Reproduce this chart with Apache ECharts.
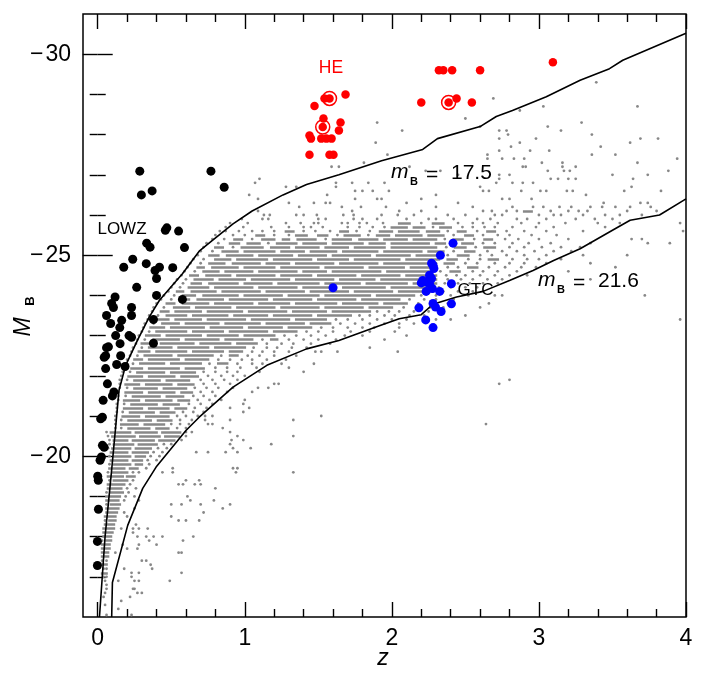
<!DOCTYPE html>
<html><head><meta charset="utf-8">
<script src="https://cdn.jsdelivr.net/npm/echarts@6/dist/echarts.min.js"></script>
<style>html,body{margin:0;padding:0;background:#fff}#c{width:706px;height:678px}</style>
</head><body><div id="c"></div>
<script>
// ---- data ----
const xMajor = [0, 1, 2, 3, 4];
const xMinor = [0.2,0.4,0.6,0.8,1.2,1.4,1.6,1.8,2.2,2.4,2.6,2.8,3.2,3.4,3.6,3.8];
const yMajor = [-30, -25, -20];
const yMinor = [-29,-28,-27,-26,-24,-23,-22,-21,-19,-18,-17];

const upperCurve = [[0.012,-16],[0.05,-18.0],[0.088,-19.4],[0.122,-20.72],[0.145,-21.64],[0.19,-22.26],[0.27,-22.88],[0.35,-23.46],[0.42,-23.88],[0.576,-24.54],[0.69,-25.1],[0.78,-25.37],[0.92,-25.78],[1.05,-26.1],[1.26,-26.5],[1.42,-26.76],[1.64,-27.0],[1.93,-27.35],[2.21,-27.63],[2.31,-27.9],[2.6,-28.2],[2.71,-28.45],[2.82,-28.6],[3.05,-28.94],[3.28,-29.35],[3.48,-29.64],[3.57,-29.85],[4.0,-30.52]];
const lowerCurve = [[0.095,-16],[0.1,-16.86],[0.204,-18.28],[0.306,-19.2],[0.397,-19.73],[0.6,-20.64],[0.69,-20.97],[0.92,-21.72],[1.15,-22.26],[1.42,-22.67],[1.64,-22.88],[1.92,-23.25],[2.05,-23.42],[2.2,-23.52],[2.28,-23.78],[2.44,-23.96],[2.62,-24.1],[2.8,-24.37],[2.96,-24.62],[3.1,-24.87],[3.28,-25.16],[3.5,-25.62],[3.62,-25.87],[3.82,-26.0],[4.0,-26.4]];

const lowzZ = [0.286,0.77,0.297,0.37,0.86,0.46,0.47,0.55,0.333,0.356,0.59,0.238,0.177,0.33,0.39,0.42,0.4,0.51,0.265,0.4,0.576,0.118,0.095,0.107,0.23,0.23,0.06,0.088,0.163,0.15,0.379,0.122,0.213,0.23,0.06,0.073,0.152,0.379,0.044,0.054,0.156,0.129,0.054,0.186,0.066,0.11,0.1,0.037,0.02,0.032,0.032,0.044,0.016,0.025,0.0,0.004,0.005,-0.002,-0.002];
const lowzM = [-27.09,-27.09,-26.5,-26.6,-26.69,-25.62,-25.68,-25.6,-25.3,-25.2,-25.19,-24.9,-24.7,-24.79,-24.62,-24.7,-24.42,-24.69,-24.2,-24.0,-23.9,-23.96,-23.8,-23.7,-23.7,-23.5,-23.5,-23.3,-23.38,-23.2,-23.4,-23.0,-23.0,-22.96,-22.7,-22.72,-22.8,-22.81,-22.46,-22.5,-22.5,-22.28,-22.18,-22.23,-21.8,-21.6,-21.5,-21.39,-20.93,-20.97,-20.27,-20.22,-19.9,-19.98,-19.5,-19.4,-18.68,-17.88,-17.28];

const heZ = [1.474,1.542,1.576,1.685,1.535,1.53,1.651,1.64,1.44,1.45,1.52,1.555,1.59,1.44,1.576,1.603,2.32,2.35,2.41,2.6,3.095,2.2,2.386,2.44,2.544];
const heM = [-28.71,-28.9,-28.9,-29.0,-28.4,-28.19,-28.3,-28.1,-27.98,-27.9,-27.9,-27.9,-27.9,-27.5,-27.5,-27.5,-29.6,-29.6,-29.6,-29.6,-29.8,-28.8,-28.8,-28.9,-28.8];
const heCircledZ = [1.576,1.53,2.386];
const heCircledM = [-28.9,-28.19,-28.8];

const gtcZ = [2.416,2.33,2.27,2.28,2.286,2.256,2.27,2.21,2.2,2.235,2.256,2.405,2.233,2.276,2.325,2.28,2.297,2.335,2.405,2.184,2.23,2.28,1.6];
const gtcM = [-25.3,-25.0,-24.8,-24.75,-24.67,-24.5,-24.42,-24.37,-24.31,-24.33,-24.29,-24.29,-24.1,-24.17,-24.1,-23.8,-23.71,-23.6,-23.79,-23.69,-23.39,-23.2,-24.19];

// survey quasars: each row = [M_B, entries...]; a number is a single object at that z,
// a pair [z1,z2] is a run of adjacent objects spanning z1..z2
const grayRows = [
[-29.3,3.39],[-28.9,2.69],[-28.7,3.03,3.67],[-28.6,2.87],[-28.4,2.5],[-28.3,1.9,3.29],[-28.2,2.6,3.06],
[-28.1,2.07,2.73,2.78,3.15],[-28.0,2.79,3.36],[-27.9,2.73,2.98,3.69,3.81],[-27.8,1.89,2.87,3.62],[-27.7,2.81,3.42],
[-27.6,2.73,2.94,3.07],[-27.5,1.97,2.65,3.36,3.52],[-27.4,2.65,2.75,2.83,2.9,3.94],[-27.3,1.81,3.02,3.16,3.67],
[-27.2,1.59,1.64,2.12,2.89,2.91,3.16,3.25],[-27.1,2.23,2.33,3.06,3.17,3.21,3.88],[-27.0,2.45,2.73,2.8,3.5,3.74],
[-26.9,1.1,2.73,3.08,3.13,3.2,3.25,3.64],[-26.8,1.07,1.62,1.73,1.84,1.95,2.71,2.82,2.89,2.96],
[-26.7,1.28,1.35,1.62,2.6,3.63],[-26.6,1.75,1.8,1.87,1.98,2.62,2.66,2.88,3.01,3.05,3.19,3.23,3.58,3.83],
[-26.5,1.03,1.56,2.3,3.32],[-26.4,1.09,1.75,1.9,1.93,2.2,2.75,2.8,2.95],
[-26.3,1.3,1.47,1.55,1.58,2.1,2.45,3.44,3.69,3.74],
[-26.2,1.37,1.66,1.79,1.96,2.3,2.55,2.82,2.96,3.03,3.14,3.22,3.35,3.43,3.52,3.62,3.76],
[-26.1,1.09,1.73,2.05,2.2,2.62,2.68,2.78,2.85,[2.9,2.95],3.08,3.2,3.27,3.33,3.6,3.8],
[-26.0,1.13,1.17,1.35,1.4,1.49,1.67,1.74,1.93,2.04,2.15,2.38,2.5,2.7,2.75,3.0,3.1,3.15,3.3,3.45,3.55,3.7],
[-25.9,0.98,1.12,1.16,1.5,1.55,1.74,1.8,1.9,2.1,2.25,2.3,2.42,2.58,2.67,2.85,2.92,3.05,3.25,3.38,3.5],
[-25.8,0.9,1.02,1.28,1.38,1.47,1.5,1.66,1.7,1.78,1.83,1.94,[2.05,2.12],2.2,[2.28,2.35],2.45,2.55,2.62,2.72,2.88,3.0,3.18,3.4,3.55,3.96],
[-25.7,0.87,0.99,1.18,1.3,1.4,1.45,1.53,1.7,1.78,1.87,1.95,[2.0,2.1],[2.15,2.22],2.28,[2.33,2.4],2.48,2.55,2.63,2.7,2.82,2.98,3.1,3.45],
[-25.6,0.83,0.87,0.96,1.05,1.12,1.2,[1.28,1.33],1.4,1.48,1.58,[1.65,1.7],1.76,1.85,[1.92,2.0],[2.05,2.18],[2.24,2.32],2.38,[2.45,2.5],2.58,[2.65,2.7],2.78,2.9,3.05,3.3,3.98],
[-25.5,0.8,0.92,1.0,[1.08,1.13],1.2,1.3,[1.35,1.42],[1.5,1.56],1.63,[1.68,1.78],1.84,[1.9,1.98],[2.03,2.2],[2.25,2.35],2.42,[2.5,2.55],2.62,2.72,2.8,2.95,3.12],
[-25.4,0.78,0.86,[0.93,0.98],1.05,[1.12,1.2],[1.26,1.3],[1.36,1.48],1.55,[1.6,1.72],[1.78,1.9],[1.95,2.1],[2.15,2.3],2.36,[2.42,2.48],2.56,[2.63,2.68],2.77,2.86,3.0,3.2,3.63,3.7],
[-25.3,0.74,0.82,[0.9,0.96],[1.02,1.1],1.16,[1.22,1.35],[1.4,1.55],[1.6,1.8],[1.85,1.95],[2.0,2.25],[2.3,2.36],2.42,[2.48,2.55],2.62,2.7,2.82,2.93,3.08,3.35,3.74,3.89],
[-25.2,0.72,[0.8,0.85],0.92,[0.98,1.12],[1.18,1.3],[1.35,1.5],[1.55,1.7],[1.75,1.95],[2.0,2.3],2.37,[2.43,2.5],2.57,[2.63,2.7],2.8,2.9,3.02,3.15,3.28],
[-25.1,0.7,0.78,[0.85,0.95],[1.0,1.2],[1.25,1.4],[1.45,1.62],[1.67,1.9],[1.95,2.2],[2.25,2.35],2.42,[2.5,2.56],2.65,2.75,2.85,2.97,3.1,3.22],
[-25.0,0.68,[0.76,0.82],[0.88,1.05],[1.1,1.32],[1.37,1.55],[1.6,1.85],[1.9,2.12],[2.17,2.3],2.38,[2.45,2.52],2.6,2.68,2.78,2.9,3.05,3.3,3.6],
[-24.9,0.65,0.72,[0.8,0.9],[0.95,1.15],[1.2,1.45],[1.5,1.7],[1.75,2.05],[2.1,2.32],[2.38,2.44],2.52,2.6,[2.66,2.72],2.82,2.92,3.0,3.15],
[-24.8,0.63,0.7,[0.76,0.86],[0.92,1.1],[1.15,1.3],[1.35,1.6],[1.65,1.9],[1.95,2.25],2.3,[2.36,2.42],2.5,2.58,2.7,2.8,2.9,3.05,3.35],
[-24.7,0.61,[0.68,0.72],[0.78,0.95],[1.0,1.2],[1.25,1.5],[1.55,1.8],[1.85,2.08],[2.13,2.3],2.38,2.45,[2.52,2.58],2.66,2.77,2.88,2.98,3.52],
[-24.6,0.59,0.66,[0.72,0.82],[0.87,1.05],[1.1,1.35],[1.4,1.55],[1.6,1.92],[1.97,2.25],2.33,[2.4,2.46],2.55,2.62,2.72,2.85,3.2],
[-24.5,0.57,[0.63,0.68],[0.74,0.9],[0.95,1.2],[1.25,1.45],[1.5,1.75],[1.8,2.05],[2.1,2.3],2.37,2.44,2.5,2.6,2.7,2.8,2.92],
[-24.4,0.54,0.6,[0.66,0.78],[0.83,1.0],[1.05,1.3],[1.35,1.6],[1.65,1.88],[1.93,2.2],[2.25,2.3],2.38,2.47,2.55,2.65,2.75,3.35],
[-24.3,0.52,0.58,[0.64,0.7],[0.76,0.95],[1.0,1.18],[1.23,1.5],[1.55,1.78],[1.83,2.1],[2.15,2.3],2.36,2.45,2.53,2.62,2.72],
[-24.2,0.5,0.56,[0.62,0.75],[0.8,1.05],[1.1,1.35],[1.4,1.62],[1.67,1.95],[2.0,2.25],2.32,2.4,2.5,2.58],
[-24.1,0.48,[0.54,0.58],[0.64,0.8],[0.85,1.1],[1.15,1.4],[1.45,1.7],[1.75,2.0],[2.05,2.28],2.35,2.45,2.55],
[-24.0,0.45,0.52,[0.58,0.66],[0.72,0.95],[1.0,1.25],[1.3,1.5],[1.55,1.85],[1.9,2.15],2.2,2.3,2.4,2.52,2.7,2.75,3.72],
[-23.9,0.43,0.5,[0.56,0.62],[0.68,0.85],[0.9,1.15],[1.2,1.45],[1.5,1.75],[1.8,2.05],2.12,2.22,2.3,2.42],
[-23.8,0.4,[0.47,0.52],[0.58,0.75],[0.8,1.05],[1.1,1.3],[1.35,1.62],[1.67,1.9],[1.95,2.1],2.18,2.27,2.38,2.66],
[-23.7,0.38,0.45,[0.52,0.62],[0.67,0.9],[0.95,1.2],[1.25,1.5],[1.55,1.8],[1.85,2.0],2.08,2.18,2.26,2.35,2.6],
[-23.6,0.37,[0.43,0.48],[0.53,0.7],[0.75,0.98],[1.03,1.28],[1.33,1.55],[1.6,1.85],1.9,1.98,2.05,2.15,2.25],
[-23.5,0.35,0.41,[0.47,0.6],[0.65,0.88],[0.93,1.15],[1.2,1.45],[1.5,1.72],1.78,1.85,1.95,2.02,2.12,2.22,2.5],
[-23.4,0.34,[0.4,0.48],[0.53,0.7],[0.75,1.0],[1.05,1.3],[1.35,1.55],1.62,1.7,1.8,1.9,2.0,2.1,2.3,2.4,3.96],
[-23.3,0.32,0.38,[0.44,0.55],[0.6,0.82],[0.87,1.1],[1.15,1.4],[1.45,1.58],1.65,1.75,1.85,1.95,2.05,2.15],
[-23.2,0.31,[0.36,0.45],[0.5,0.72],[0.77,0.98],[1.03,1.25],[1.3,1.45],1.52,1.6,1.7,1.8,1.88,2.05],
[-23.1,0.3,0.35,[0.4,0.6],[0.65,0.85],[0.9,1.15],[1.2,1.35],1.42,1.5,1.6,1.72,1.85,2.02],
[-23.0,0.28,[0.33,0.42],[0.47,0.7],[0.75,0.95],[1.0,1.2],1.27,1.35,1.45,1.55,1.68,1.8,2.1],
[-22.9,0.27,0.32,[0.38,0.55],[0.6,0.82],[0.87,1.05],1.12,[1.18,1.22],1.3,1.4,1.5,1.62,1.95],
[-22.8,0.26,[0.3,0.38],[0.43,0.65],[0.7,0.9],[0.95,1.08],1.15,1.25,1.33,1.45,1.58],
[-22.7,0.24,0.3,[0.35,0.5],[0.55,0.75],[0.8,1.0],1.06,1.15,1.22,1.32,1.42,1.85],
[-22.6,0.23,[0.28,0.35],[0.4,0.6],[0.65,0.85],[0.9,0.98],1.05,1.12,1.2,1.3,1.48,1.52,1.63,2.04],
[-22.5,0.22,0.27,[0.32,0.5],[0.55,0.78],0.84,[0.9,0.95],1.02,1.1,1.2,1.35],
[-22.4,0.2,[0.25,0.3],[0.35,0.55],[0.6,0.75],0.82,0.9,0.98,1.05,1.15,1.28],
[-22.3,0.19,0.24,[0.29,0.45],[0.5,0.7],0.76,[0.82,0.88],0.95,1.05,1.12,1.25,1.47],
[-22.2,0.18,[0.23,0.3],[0.35,0.55],[0.6,0.72],0.8,0.88,0.97,1.08,1.3],
[-22.1,0.17,0.22,[0.27,0.45],[0.5,0.66],0.72,0.8,0.88,0.95,1.1,1.4],
[-22.0,0.16,[0.21,0.3],[0.35,0.52],[0.57,0.68],0.75,0.84,0.92,1.0],
[-21.9,0.15,0.2,[0.25,0.42],[0.47,0.62],0.7,0.78,0.86,0.95,2.8],
[-21.8,0.15,[0.19,0.28],[0.33,0.5],[0.55,0.65],0.72,0.8,0.9,1.2,1.23,2.73],
[-21.7,0.15,0.2,[0.25,0.4],[0.45,0.6],0.66,0.74,0.82,0.92,1.09,1.16],
[-21.6,0.14,[0.19,0.3],[0.35,0.52],[0.57,0.64],0.7,0.78,0.88,1.05],
[-21.5,0.14,0.19,[0.24,0.42],[0.47,0.58],0.65,0.72,0.8],
[-21.4,0.14,[0.18,0.28],[0.33,0.5],[0.55,0.62],0.68,0.76,0.84,1.0],
[-21.3,0.13,0.18,[0.23,0.4],[0.45,0.55],0.62,0.7,0.78,0.99],
[-21.2,0.13,[0.18,0.3],[0.35,0.48],[0.53,0.6],0.66,0.74,0.9,1.03],
[-21.1,0.13,0.17,[0.22,0.38],[0.43,0.52],0.58,0.65,0.72,0.99],
[-21.0,0.12,[0.17,0.28],[0.33,0.48],0.54,0.6,0.68,0.73,0.78,1.52],
[-20.9,0.12,0.16,[0.21,0.36],[0.41,0.5],0.56,0.64,0.73,0.9,1.33],
[-20.8,0.12,[0.16,0.27],[0.32,0.45],0.5,0.56,0.62,0.75,0.78,2.64],
[-20.7,0.12,0.16,[0.21,0.35],[0.4,0.48],0.54,0.6,0.85],
[-20.6,0.06,[0.09,0.22],[0.26,0.4],[0.44,0.56],0.6,0.64,0.9],
[-20.5,0.07,[0.1,0.25],[0.29,0.42],[0.46,0.55],0.6,0.95,1.33],
[-20.4,0.08,[0.11,0.2],[0.24,0.38],[0.42,0.52],0.57,0.91,0.99],
[-20.3,0.08,[0.11,0.24],[0.28,0.4],0.45,0.5,0.9,1.18],
[-20.2,0.07,[0.1,0.22],[0.26,0.36],0.41,0.47,0.92,1.04],
[-20.1,[0.09,0.2],[0.24,0.34],0.38,0.44,0.67,0.75,0.87,0.95],
[-20.0,0.08,[0.11,0.22],[0.26,0.32],0.36,0.42],
[-19.9,[0.09,0.2],[0.24,0.3],0.34,0.4],
[-19.8,0.08,[0.11,0.22],[0.26,0.3],0.35],
[-19.7,[0.08,0.18],[0.22,0.27],0.33,0.51,0.92,0.95],
[-19.6,0.07,[0.1,0.2],0.24,0.28,0.44,0.51,0.94,1.33],
[-19.5,[0.07,0.17],[0.2,0.25]],
[-19.4,0.08,[0.11,0.2],0.24,0.6,0.69],
[-19.3,[0.07,0.18],0.22,0.55,0.58,0.66,0.7],
[-19.2,[0.07,0.16],0.2,0.26,0.8],
[-19.1,0.06,[0.09,0.17],0.21],
[-19.0,[0.06,0.15],0.19,0.25,0.61],
[-18.9,[0.06,0.14],0.18,0.28,0.63,0.79],
[-18.8,0.06,[0.09,0.15],0.5,0.57,0.7,0.9],
[-18.7,[0.06,0.14],0.25,0.85],
[-18.6,[0.06,0.13],0.18,0.72],
[-18.5,[0.05,0.12],0.2,0.5],
[-18.4,0.05,[0.08,0.12],0.55,0.6,0.69],
[-18.3,[0.05,0.11],0.26],
[-18.2,[0.04,0.11],0.16,0.24,0.28,0.34],
[-18.1,[0.04,0.1],0.24],
[-18.0,[0.04,0.09],0.27,0.33,0.38,0.44,0.65],
[-17.9,0.03,[0.06,0.09],0.35,0.58],
[-17.8,[0.03,0.08],0.17,0.28,0.4],
[-17.7,[0.03,0.08],0.2,0.27],
[-17.6,[0.03,0.07],0.12,0.55,0.57],
[-17.5,[0.03,0.07]],
[-17.4,0.03,0.06,0.3,0.33],
[-17.3,[0.03,0.06],0.36],
[-17.2,0.04,0.06,0.18,0.37],
[-17.1,[0.03,0.06],0.23,0.28,0.57],
[-17.0,0.04,0.06,0.23],
[-16.9,0.05,0.14,0.25,0.28,0.49],
[-16.8,0.06],
[-16.7,0.06,0.24,0.25],
[-16.6,0.05,0.27,0.3],
[-16.5,0.04,0.22],
[-16.4,0.16],
[-16.3,0.05],
[-16.2,0.14],
[-16.05,0.06,0.23]
];

// ---- build marks ----
const dashData = [], dotData = [];
grayRows.forEach(r => {
  const M = r[0];
  for (let k = 1; k < r.length; k++) {
    const e = r[k];
    if (Array.isArray(e)) dashData.push({coords: [[e[0], M], [e[1], M]]});
    else dotData.push([e, M]);
  }
});
const pairs = (a, b) => a.map((v, i) => [v, b[i]]);

const FONT = 'Liberation Sans';
const chart = echarts.init(document.getElementById('c'), null, {renderer: 'canvas'});
const minus = v => v < 0 ? '\u2212\u200a' + Math.abs(v) : String(v);

function xAx(pos, vals, len, labels) {
  return {type: 'value', min: -0.1, max: 4, position: pos, gridIndex: 0,
    axisLine: {show: false}, splitLine: {show: false},
    axisTick: {show: true, inside: true, length: len, customValues: vals, lineStyle: {color: '#000', width: 1.4}},
    axisLabel: labels ? {show: true, customValues: vals, fontSize: 23, fontFamily: FONT, color: '#000', margin: 10} : {show: false}};
}
function yAx(pos, vals, len, labels) {
  return {type: 'value', min: -31, max: -16, inverse: true, position: pos, gridIndex: 0,
    axisLine: {show: false}, splitLine: {show: false},
    axisTick: {show: true, inside: true, length: len, customValues: vals, lineStyle: {color: '#000', width: 1.4}},
    axisLabel: labels ? {show: true, customValues: vals, fontSize: 23, fontFamily: FONT, color: '#000', margin: 12, formatter: minus} : {show: false}};
}

const txt = (x, y, text, o) => Object.assign({type: 'text', x: x, y: y, silent: true, z: 100,
  style: Object.assign({text: text, fill: '#000', fontFamily: FONT, fontSize: 17,
    align: 'center', verticalAlign: 'middle', textAlign: 'center', textVerticalAlign: 'middle'}, o || {})});

chart.setOption({
  animation: false,
  backgroundColor: '#fff',
  grid: {left: 83, top: 14, width: 603, height: 603, show: true, borderColor: '#000', borderWidth: 1.5, backgroundColor: 'transparent'},
  xAxis: [xAx('bottom', xMajor, 15, true), xAx('bottom', xMinor, 8, false), xAx('top', xMajor, 15, false), xAx('top', xMinor, 8, false)],
  yAxis: [yAx('left', yMajor, 15, true), yAx('left', yMinor, 8, false), yAx('right', yMajor, 15, false), yAx('right', yMinor, 8, false)],
  series: [
    {type: 'lines', coordinateSystem: 'cartesian2d', xAxisIndex: 0, yAxisIndex: 0, data: dashData, silent: true,
      lineStyle: {color: '#888888', width: 2.6, opacity: 1, cap: 'square', curveness: 0}, z: 1},
    {type: 'scatter', xAxisIndex: 0, yAxisIndex: 0, data: dotData, symbol: 'circle', symbolSize: 2.8, silent: true,
      itemStyle: {color: '#888888', opacity: 1}, z: 1},
    {type: 'line', xAxisIndex: 0, yAxisIndex: 0, data: upperCurve, showSymbol: false, silent: true,
      lineStyle: {color: '#000', width: 1.6}, z: 2},
    {type: 'line', xAxisIndex: 0, yAxisIndex: 0, data: lowerCurve, showSymbol: false, silent: true,
      lineStyle: {color: '#000', width: 1.6}, z: 2},
    {type: 'scatter', xAxisIndex: 0, yAxisIndex: 0, data: pairs(lowzZ, lowzM), symbolSize: 9, silent: true,
      itemStyle: {color: '#000', opacity: 1}, z: 3},
    {type: 'scatter', xAxisIndex: 0, yAxisIndex: 0, data: pairs(gtcZ, gtcM), symbolSize: 9, silent: true,
      itemStyle: {color: '#0000ff', opacity: 1}, z: 3},
    {type: 'scatter', xAxisIndex: 0, yAxisIndex: 0, data: pairs(heZ, heM), symbolSize: 8.5, silent: true,
      itemStyle: {color: '#ff0000', opacity: 1}, z: 3},
    {type: 'scatter', xAxisIndex: 0, yAxisIndex: 0, data: pairs(heCircledZ, heCircledM), symbolSize: 14, silent: true,
      itemStyle: {color: 'rgba(0,0,0,0)', borderColor: '#ff0000', borderWidth: 1.5, opacity: 1}, z: 3}
  ],
  graphic: [
    txt(122, 229.5, 'LOWZ', {fontSize: 17}),
    txt(331, 68.5, 'HE', {fontSize: 17.5, fill: '#ff0000'}),
    txt(475.5, 290, 'GTC', {fontSize: 17}),
    // m_B = 17.5
    txt(391, 172, 'm', {fontSize: 21, fontStyle: 'italic', align: 'left', textAlign: 'left'}),
    txt(414, 181.5, 'B', {fontSize: 11, fontWeight: 'bold'}),
    txt(426, 175.5, '=', {fontSize: 21, align: 'left', textAlign: 'left'}),
    txt(451, 173, '17.5', {fontSize: 21, align: 'left', textAlign: 'left'}),
    // m_B = 21.6
    txt(538, 280, 'm', {fontSize: 21, fontStyle: 'italic', align: 'left', textAlign: 'left'}),
    txt(561, 289.5, 'B', {fontSize: 11, fontWeight: 'bold'}),
    txt(573, 283.5, '=', {fontSize: 21, align: 'left', textAlign: 'left'}),
    txt(598, 281, '21.6', {fontSize: 21, align: 'left', textAlign: 'left'}),
    // axis titles
    txt(383, 659, 'z', {fontSize: 23, fontStyle: 'italic'}),
    Object.assign(txt(24, 327, 'M', {fontSize: 23, fontStyle: 'italic'}), {rotation: Math.PI / 2}),
    Object.assign(txt(30, 301, 'B', {fontSize: 13, fontWeight: 'bold'}), {rotation: Math.PI / 2})
  ]
});
</script>
</body></html>
